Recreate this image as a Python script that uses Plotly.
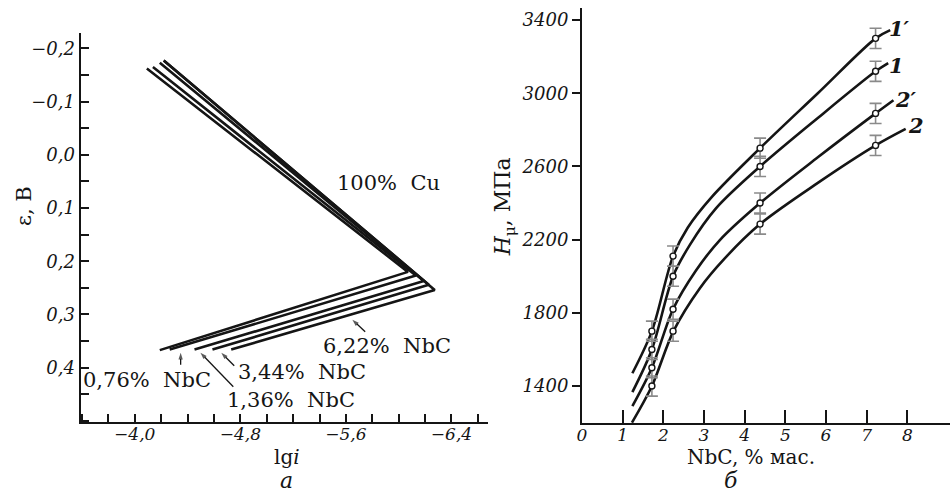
import plotly.graph_objects as go

W, H = 950, 495
FONT = "DejaVu Serif"
INK = "#151515"

# ---------------- Panel a: polarization curves (lg i vs epsilon) ----------------
# each curve: start (upper branch), vertex, end (lower branch)
lgi_cu = [-4.092, -6.070, -4.190]
eps_cu = [-0.162, 0.220, 0.367]
lgi_076 = [-4.138, -6.130, -4.265]
eps_076 = [-0.165, 0.227, 0.366]
lgi_136 = [-4.190, -6.190, -4.453]
eps_136 = [-0.173, 0.237, 0.366]
lgi_344 = [-4.220, -6.228, -4.589]
eps_344 = [-0.177, 0.244, 0.366]
lgi_622 = [-4.220, -6.273, -4.731]
eps_622 = [-0.177, 0.254, 0.366]

# label pointer arrows: (tail, tip)
arrow_lgi = [[-5.746, -5.649], [-4.754, -4.656], [-4.747, -4.498], [-4.348, -4.348]]
arrow_eps = [[0.3325, 0.310], [0.3964, 0.372], [0.4358, 0.372], [0.3945, 0.372]]

lgi_ticks = [-4.0, -4.8, -5.6, -6.4]
lgi_labels = ["\u22124,0", "\u22124,8", "\u22125,6", "\u22126,4"]
eps_ticks = [-0.2, -0.1, 0.0, 0.1, 0.2, 0.3, 0.4]
eps_labels = ["\u22120,2", "\u22120,1", "0,0", "0,1", "0,2", "0,3", "0,4"]

# ---------------- Panel b: microhardness vs NbC ----------------
nbc_pts = [1.72, 2.24, 4.38, 7.22]
h_1p = [1700, 2110, 2700, 3300]
h_1 = [1600, 2000, 2600, 3120]
h_2p = [1500, 1820, 2400, 2890]
h_2 = [1400, 1700, 2285, 2715]
h_err = [55, 55, 55, 55]

# points read along each drawn (fitted) curve
cx_1p = [1.24, 1.72, 2.24, 2.6, 3.2, 4.38, 5.8, 7.22, 7.58]
cy_1p = [1470, 1700, 2110, 2265, 2435, 2700, 3000, 3300, 3345]
cx_1 = [1.24, 1.72, 2.24, 2.65, 3.3, 4.38, 5.8, 7.22, 7.53]
cy_1 = [1367, 1600, 2000, 2170, 2372, 2600, 2865, 3120, 3165]
cx_2p = [1.24, 1.72, 2.24, 2.8, 3.38, 4.38, 5.8, 7.22, 7.66]
cy_2p = [1290, 1500, 1820, 2030, 2195, 2400, 2650, 2890, 2962]
cx_2 = [1.23, 1.72, 2.25, 2.9, 3.5, 4.38, 5.8, 7.22, 7.96]
cy_2 = [1200, 1400, 1700, 1935, 2095, 2285, 2510, 2715, 2805]

h_ticks = [1400, 1800, 2200, 2600, 3000, 3400]
nbc_ticks = [0, 1, 2, 3, 4, 5, 6, 7, 8]

fig = go.Figure()

for lx, ly in [(lgi_cu, eps_cu), (lgi_076, eps_076), (lgi_136, eps_136),
               (lgi_344, eps_344), (lgi_622, eps_622)]:
    fig.add_trace(go.Scatter(x=lx, y=ly, mode="lines", xaxis="x", yaxis="y",
                             line=dict(color=INK, width=2.6), showlegend=False,
                             hoverinfo="skip"))

for ax_, ay_ in zip(arrow_lgi, arrow_eps):
    fig.add_trace(go.Scatter(x=ax_, y=ay_, mode="lines+markers", xaxis="x", yaxis="y",
                             line=dict(color=INK, width=1.3),
                             marker=dict(symbol=["circle", "arrow"], size=[0, 7],
                                         angleref="previous", color=INK,
                                         line=dict(width=0)),
                             showlegend=False, hoverinfo="skip"))

for cx, cy in [(cx_1p, cy_1p), (cx_1, cy_1), (cx_2p, cy_2p), (cx_2, cy_2)]:
    fig.add_trace(go.Scatter(x=cx, y=cy, mode="lines", xaxis="x2", yaxis="y2",
                             line=dict(color=INK, width=2.6, shape="spline", smoothing=0.9),
                             showlegend=False, hoverinfo="skip"))

for hv in [h_1p, h_1, h_2p, h_2]:
    fig.add_trace(go.Scatter(x=nbc_pts, y=hv, mode="markers", xaxis="x2", yaxis="y2",
                             marker=dict(symbol="circle", size=6, color="white",
                                         line=dict(color=INK, width=1.4)),
                             error_y=dict(type="data", array=h_err, color="#8a8a8a",
                                          thickness=1.6, width=6),
                             showlegend=False, hoverinfo="skip"))

def px(x):
    return x / W

def py(y):
    return 1 - y / H

def ital(labels):
    return ["<i>%s</i>" % s for s in labels]

common = dict(showline=True, linecolor=INK, linewidth=2, showgrid=False,
              zeroline=False, tickwidth=1.6, tickcolor=INK)
yfont = dict(family=FONT, size=18, color=INK)
xfont = dict(family=FONT, size=17, color=INK)

fig.update_layout(
    width=W, height=H,
    margin=dict(l=0, r=0, t=0, b=0),
    paper_bgcolor="white", plot_bgcolor="white",
    xaxis=dict(domain=[px(76), px(486)], range=[-3.59, -6.68], anchor="y",
               tickmode="array", tickvals=lgi_ticks, ticktext=ital(lgi_labels),
               ticks="inside", ticklen=8, tickfont=xfont, ticklabelstandoff=-4,
               minor=dict(tickmode="linear", tick0=-4.0, dtick=0.2, ticks="inside",
                          ticklen=8, tickwidth=1.6, tickcolor=INK, showgrid=False),
               **common),
    yaxis=dict(domain=[py(422), py(33)], range=[0.502, -0.2287], anchor="x",
               tickmode="array", tickvals=eps_ticks, ticktext=ital(eps_labels),
               ticks="inside", ticklen=8, tickfont=yfont,
               minor=dict(tickmode="linear", tick0=0.0, dtick=0.05, ticks="inside",
                          ticklen=8, tickwidth=1.6, tickcolor=INK, showgrid=False),
               **common),
    xaxis2=dict(domain=[px(580), 1.0], range=[0, 9.05], anchor="y2",
                tickmode="array", tickvals=nbc_ticks,
                ticktext=ital([str(v) for v in nbc_ticks]),
                ticks="inside", ticklen=13, tickfont=xfont, ticklabelstandoff=-4,
                **common),
    yaxis2=dict(domain=[py(423), py(8)], range=[1198, 3466], anchor="x2",
                tickmode="array", tickvals=h_ticks,
                ticktext=ital([str(v) for v in h_ticks]),
                ticks="outside", ticklen=8, tickfont=yfont, **common),
)

ann = []

def text_at(t, x, y, size=21, angle=0, yanchor="middle"):
    ann.append(dict(text=t, x=px(x), y=py(y), xref="paper", yref="paper",
                    showarrow=False, xanchor="center", yanchor=yanchor,
                    textangle=angle,
                    font=dict(family=FONT, size=size, color=INK)))

NB = "\u00a0\u00a0"
# panel a labels
text_at("100%" + NB + "Cu", 386, 183, 21)
text_at("6,22%" + NB + "NbC", 384, 346, 21)
text_at("3,44%" + NB + "NbC", 299, 372, 21)
text_at("1,36%" + NB + "NbC", 288, 400, 21)
text_at("0,76%" + NB + "NbC", 143, 380, 21)

# axis titles
text_at("\u03b5, \u0412", 19, 206, 21, angle=-90)
text_at("lg<i>i</i>", 283, 457, 20)
text_at("<i>а</i>", 283, 495, 22, yanchor="bottom")
text_at("NbC, % мас.", 750, 457, 20)
text_at("<i>б</i>", 730, 495, 22, yanchor="bottom")
text_at("<i>H</i><sub>\u03bc</sub>, МПа", 502, 207, 22, angle=-90)

# curve labels panel b
for lab, x, y in [("1\u2032", 899, 28), ("1", 896, 66), ("2\u2032", 906, 100), ("2", 916, 125)]:
    text_at("<b><i>%s</i></b>" % lab, x, y, 21)

fig.update_layout(annotations=ann)
fig.write_html("out.html")
